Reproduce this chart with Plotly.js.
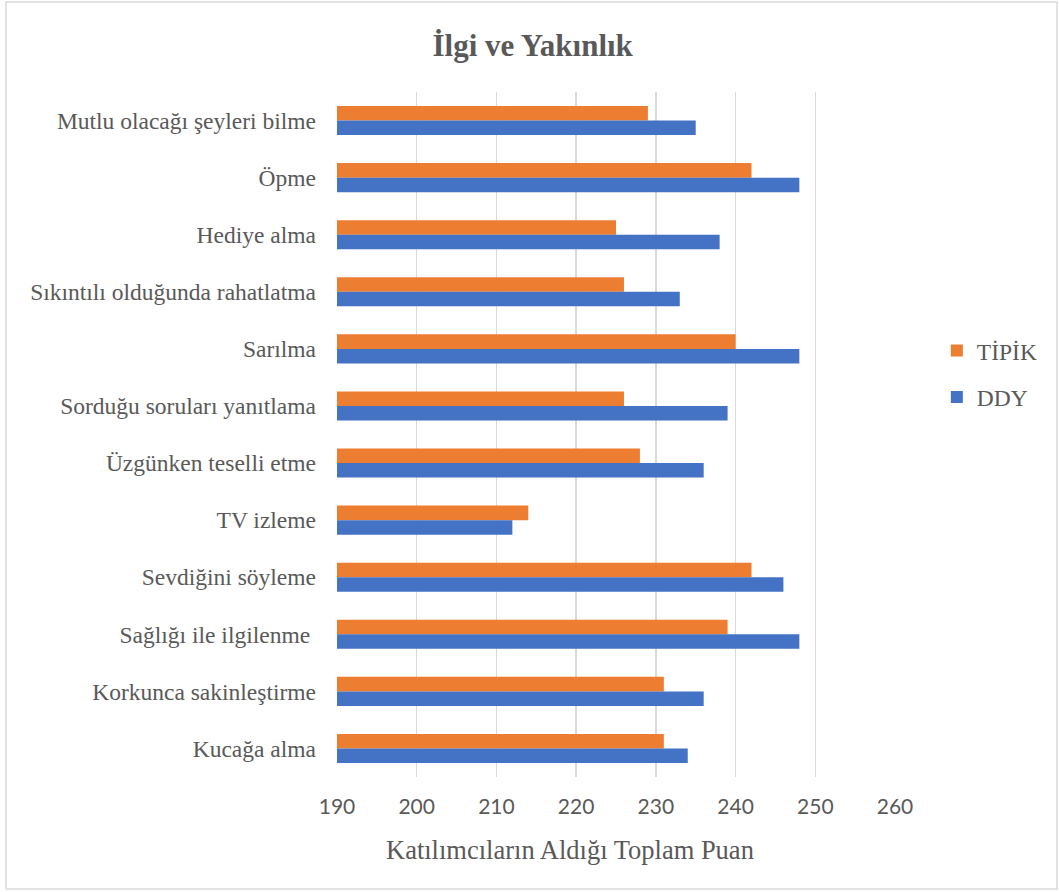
<!DOCTYPE html>
<html>
<head>
<meta charset="utf-8">
<script src="https://cdn.plot.ly/plotly-3.0.1.min.js"></script>
<style>html,body{margin:0;padding:0;background:#fff;}</style>
</head>
<body>
<div id="chart" style="width:1059px;height:892px;"></div>
<script>
// Categories, top to bottom as shown
var categories = [
  "Mutlu olacağı şeyleri bilme",
  "Öpme",
  "Hediye alma",
  "Sıkıntılı olduğunda rahatlatma",
  "Sarılma",
  "Sorduğu soruları yanıtlama",
  "Üzgünken teselli etme",
  "TV izleme",
  "Sevdiğini söyleme",
  "Sağlığı ile ilgilenme ",
  "Korkunca sakinleştirme",
  "Kucağa alma"
];
var tipikValues = [229, 242, 225, 226, 240, 226, 228, 214, 242, 239, 231, 231];
var ddyValues   = [235, 248, 238, 233, 248, 239, 236, 212, 246, 248, 236, 234];
var xTicks = [190, 200, 210, 220, 230, 240, 250, 260];
var xAxisTitle = "Katılımcıların Aldığı Toplam Puan";

var serif = "'Liberation Serif', 'Times New Roman', serif";
var sans = "Lato, 'Open Sans', sans-serif";

var traces = [
  {
    type: "bar", orientation: "h", name: "TİPİK", legendgroup: "a",
    y: categories, x: tipikValues,
    marker: {color: "#ED7D31"}, hoverinfo: "x+y"
  },
  {
    type: "bar", orientation: "h", name: "DDY", legendgroup: "b",
    y: categories, x: ddyValues,
    marker: {color: "#4472C4"}, hoverinfo: "x+y"
  }
];

var layout = {
  width: 1059, height: 892,
  paper_bgcolor: "#fff", plot_bgcolor: "#fff",
  margin: {l: 337, r: 164, t: 92, b: 115},
  barmode: "group", bargap: 0.49, bargroupgap: 0,
  title: {
    text: "<b>İlgi ve Yakınlık</b>",
    font: {family: serif, size: 31, color: "#595959"},
    x: 0.503, xref: "container", xanchor: "center",
    y: 1 - 45/892, yref: "container", yanchor: "middle"
  },
  xaxis: {
    range: [190, 260], tickvals: xTicks, ticktext: xTicks.map(String),
    showgrid: true, gridcolor: "#d9d9d9", gridwidth: 1.5,
    zeroline: false, showline: false, ticks: "",
    ticklabelstandoff: 15,
    tickfont: {family: sans, size: 21, color: "#595959"},
    fixedrange: true
  },
  yaxis: {
    type: "category", autorange: "reversed",
    showgrid: false, zeroline: false, showline: false, ticks: "",
    ticklabelstandoff: 20,
    tickfont: {family: serif, size: 23.5, color: "#595959"},
    fixedrange: true
  },
  legend: {
    x: 1.075, xanchor: "left", y: 0.588, yanchor: "middle",
    traceorder: "grouped", tracegroupgap: 13,
    font: {family: serif, size: 23.5, color: "#595959"},
    bgcolor: "rgba(0,0,0,0)"
  },
  annotations: [{
    text: xAxisTitle, showarrow: false,
    xref: "paper", yref: "paper",
    x: (570 - 337)/558, xanchor: "center",
    y: (777 - 850)/685, yanchor: "middle",
    font: {family: serif, size: 26.5, color: "#595959"}
  }],
  shapes: [{
    type: "rect", xref: "paper", yref: "paper",
    x0: (6 - 337)/558, x1: (1057 - 337)/558,
    y0: (777 - 889)/685, y1: (777 - 2)/685,
    line: {color: "#d9d9d9", width: 1.5}, fillcolor: "rgba(0,0,0,0)", layer: "below"
  }]
};

Plotly.newPlot("chart", traces, layout, {displayModeBar: false, staticPlot: true});
</script>
</body>
</html>
